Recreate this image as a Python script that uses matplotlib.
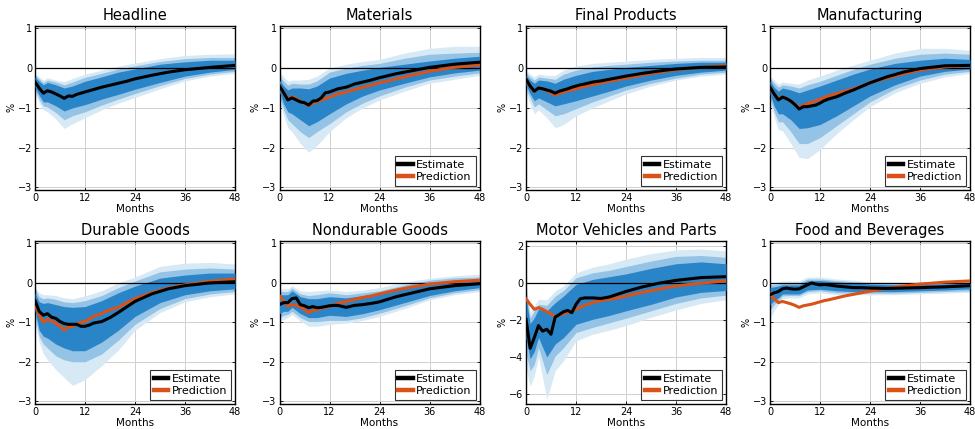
import matplotlib
matplotlib.use('Agg')
import matplotlib.pyplot as plt

# months for the point estimate / prediction lines and for the bands
months = [0,1,2,3,4,5,6,7,8,9,10,11,12,13,14,16,18,20,22,24,28,32,36,42,48]
band_months = [0,1,2,3,5,7,9,12,16,20,24,30,36,42,48]

titles = ['Headline', 'Materials', 'Final Products', 'Manufacturing',
          'Durable Goods', 'Nondurable Goods', 'Motor Vehicles and Parts', 'Food and Beverages']

# Headline
headline_est = [-0.35,-0.5,-0.63,-0.57,-0.6,-0.65,-0.7,-0.76,-0.7,-0.71,-0.66,-0.63,-0.6,-0.57,-0.54,-0.48,-0.43,-0.38,-0.33,-0.27,-0.18,-0.1,-0.04,0.02,0.07]
headline_in_lo = [-0.48,-0.68,-0.85,-0.85,-0.95,-1.08,-1.0,-0.92,-0.78,-0.66,-0.53,-0.36,-0.2,-0.1,-0.03]
headline_in_hi = [-0.22,-0.33,-0.42,-0.36,-0.42,-0.5,-0.45,-0.33,-0.22,-0.1,-0.02,0.1,0.16,0.2,0.2]
headline_mid_lo = [-0.55,-0.78,-0.95,-0.98,-1.12,-1.3,-1.2,-1.1,-0.93,-0.78,-0.64,-0.44,-0.26,-0.15,-0.08]
headline_mid_hi = [-0.17,-0.27,-0.36,-0.3,-0.35,-0.42,-0.35,-0.23,-0.13,-0.02,0.06,0.17,0.24,0.27,0.27]
headline_out_lo = [-0.62,-0.88,-1.05,-1.1,-1.28,-1.52,-1.4,-1.25,-1.05,-0.88,-0.74,-0.52,-0.32,-0.2,-0.13]
headline_out_hi = [-0.12,-0.22,-0.3,-0.24,-0.3,-0.34,-0.26,-0.15,-0.05,0.05,0.13,0.24,0.32,0.35,0.36]

# Materials
materials_est = [-0.45,-0.62,-0.8,-0.75,-0.8,-0.85,-0.87,-0.93,-0.83,-0.82,-0.75,-0.62,-0.6,-0.56,-0.52,-0.48,-0.4,-0.35,-0.3,-0.24,-0.14,-0.06,0.02,0.1,0.15]
materials_pred = [-0.45,-0.62,-0.78,-0.72,-0.77,-0.83,-0.87,-0.95,-0.88,-0.85,-0.8,-0.77,-0.73,-0.69,-0.65,-0.6,-0.54,-0.48,-0.43,-0.37,-0.27,-0.17,-0.08,0.02,0.08]
materials_in_lo = [-0.6,-0.9,-1.1,-1.15,-1.3,-1.45,-1.35,-1.15,-0.9,-0.7,-0.55,-0.38,-0.22,-0.12,-0.05]
materials_in_hi = [-0.3,-0.45,-0.55,-0.5,-0.5,-0.52,-0.45,-0.25,-0.13,-0.05,0.02,0.1,0.18,0.25,0.3]
materials_mid_lo = [-0.7,-1.05,-1.3,-1.4,-1.6,-1.75,-1.6,-1.4,-1.1,-0.88,-0.7,-0.48,-0.3,-0.2,-0.12]
materials_mid_hi = [-0.2,-0.33,-0.43,-0.38,-0.4,-0.4,-0.32,-0.1,0.0,0.07,0.12,0.25,0.35,0.38,0.4]
materials_out_lo = [-0.85,-1.2,-1.5,-1.6,-1.9,-2.12,-1.95,-1.6,-1.25,-1.0,-0.8,-0.58,-0.38,-0.28,-0.18]
materials_out_hi = [-0.1,-0.22,-0.33,-0.3,-0.3,-0.28,-0.2,0.0,0.1,0.17,0.22,0.38,0.5,0.55,0.55]

# Final Products
final_est = [-0.28,-0.45,-0.58,-0.5,-0.52,-0.55,-0.58,-0.63,-0.58,-0.55,-0.52,-0.48,-0.45,-0.42,-0.4,-0.35,-0.32,-0.28,-0.24,-0.2,-0.13,-0.07,-0.02,0.02,0.03]
final_pred = [-0.28,-0.45,-0.58,-0.5,-0.53,-0.57,-0.62,-0.68,-0.63,-0.6,-0.57,-0.55,-0.52,-0.49,-0.46,-0.42,-0.37,-0.33,-0.29,-0.25,-0.17,-0.1,-0.04,0.02,0.06]
final_in_lo = [-0.42,-0.65,-0.82,-0.75,-0.85,-0.95,-0.9,-0.82,-0.7,-0.58,-0.45,-0.3,-0.18,-0.1,-0.05]
final_in_hi = [-0.18,-0.3,-0.38,-0.3,-0.32,-0.38,-0.28,-0.18,-0.08,-0.03,0.02,0.07,0.12,0.15,0.15]
final_mid_lo = [-0.52,-0.75,-0.98,-0.9,-1.05,-1.2,-1.15,-1.02,-0.85,-0.7,-0.55,-0.38,-0.25,-0.15,-0.1]
final_mid_hi = [-0.12,-0.22,-0.3,-0.22,-0.25,-0.28,-0.15,-0.05,0.03,0.07,0.1,0.15,0.18,0.2,0.2]
final_out_lo = [-0.62,-0.9,-1.15,-1.05,-1.25,-1.5,-1.42,-1.2,-1.0,-0.82,-0.65,-0.45,-0.3,-0.2,-0.15]
final_out_hi = [-0.05,-0.15,-0.22,-0.15,-0.18,-0.18,-0.05,0.05,0.12,0.15,0.18,0.22,0.25,0.27,0.27]

# Manufacturing
manuf_est = [-0.48,-0.65,-0.8,-0.73,-0.77,-0.83,-0.92,-1.03,-0.97,-0.97,-0.95,-0.93,-0.88,-0.82,-0.78,-0.72,-0.63,-0.55,-0.46,-0.37,-0.22,-0.1,-0.01,0.06,0.07]
manuf_pred = [-0.48,-0.65,-0.78,-0.72,-0.77,-0.83,-0.9,-1.0,-0.93,-0.9,-0.86,-0.82,-0.78,-0.74,-0.7,-0.64,-0.58,-0.52,-0.45,-0.37,-0.25,-0.14,-0.05,0.03,0.07]
manuf_in_lo = [-0.65,-0.95,-1.15,-1.15,-1.3,-1.52,-1.5,-1.42,-1.2,-0.95,-0.7,-0.42,-0.2,-0.08,-0.02]
manuf_in_hi = [-0.32,-0.48,-0.58,-0.5,-0.55,-0.62,-0.55,-0.45,-0.3,-0.15,-0.02,0.12,0.2,0.25,0.22]
manuf_mid_lo = [-0.75,-1.1,-1.35,-1.35,-1.6,-1.9,-1.9,-1.75,-1.45,-1.15,-0.85,-0.52,-0.3,-0.15,-0.08]
manuf_mid_hi = [-0.25,-0.38,-0.48,-0.42,-0.45,-0.5,-0.42,-0.33,-0.18,-0.03,0.1,0.25,0.35,0.38,0.35]
manuf_out_lo = [-0.85,-1.25,-1.55,-1.58,-1.9,-2.25,-2.28,-2.05,-1.65,-1.3,-0.97,-0.62,-0.38,-0.22,-0.13]
manuf_out_hi = [-0.2,-0.3,-0.4,-0.35,-0.38,-0.4,-0.3,-0.2,-0.05,0.08,0.2,0.38,0.5,0.5,0.45]

# Durable Goods
durable_est = [-0.45,-0.72,-0.82,-0.78,-0.87,-0.9,-0.98,-1.03,-1.05,-1.05,-1.05,-1.1,-1.1,-1.07,-1.02,-0.98,-0.88,-0.75,-0.61,-0.47,-0.28,-0.15,-0.07,0.0,0.03]
durable_pred = [-0.55,-0.8,-1.0,-0.92,-0.97,-1.02,-1.1,-1.2,-1.12,-1.1,-1.05,-1.0,-0.98,-0.92,-0.85,-0.78,-0.68,-0.62,-0.5,-0.4,-0.25,-0.13,-0.05,0.04,0.1]
durable_in_lo = [-0.7,-1.2,-1.35,-1.4,-1.55,-1.65,-1.72,-1.72,-1.5,-1.2,-0.85,-0.5,-0.3,-0.2,-0.15]
durable_in_hi = [-0.25,-0.48,-0.52,-0.5,-0.55,-0.6,-0.62,-0.6,-0.45,-0.25,-0.08,0.12,0.2,0.25,0.25]
durable_mid_lo = [-0.85,-1.35,-1.55,-1.65,-1.85,-1.95,-2.0,-2.0,-1.8,-1.45,-1.05,-0.65,-0.4,-0.28,-0.22]
durable_mid_hi = [-0.15,-0.35,-0.4,-0.38,-0.42,-0.48,-0.5,-0.45,-0.32,-0.12,0.05,0.28,0.35,0.38,0.35]
durable_out_lo = [-1.0,-1.5,-1.8,-1.95,-2.2,-2.4,-2.6,-2.45,-2.1,-1.7,-1.2,-0.75,-0.48,-0.35,-0.28]
durable_out_hi = [-0.1,-0.25,-0.3,-0.3,-0.32,-0.38,-0.4,-0.33,-0.2,0.0,0.15,0.42,0.5,0.52,0.48]

# Nondurable Goods
nondur_est = [-0.55,-0.5,-0.5,-0.4,-0.38,-0.55,-0.58,-0.63,-0.6,-0.63,-0.62,-0.6,-0.58,-0.57,-0.57,-0.62,-0.57,-0.55,-0.52,-0.48,-0.35,-0.25,-0.15,-0.07,-0.02]
nondur_pred = [-0.33,-0.45,-0.58,-0.55,-0.57,-0.6,-0.67,-0.75,-0.7,-0.68,-0.64,-0.62,-0.6,-0.56,-0.52,-0.47,-0.42,-0.37,-0.33,-0.28,-0.18,-0.1,-0.03,0.03,0.07]
nondur_in_lo = [-0.78,-0.72,-0.72,-0.62,-0.78,-0.88,-0.88,-0.82,-0.85,-0.78,-0.68,-0.5,-0.32,-0.2,-0.12]
nondur_in_hi = [-0.3,-0.3,-0.3,-0.2,-0.35,-0.4,-0.4,-0.35,-0.38,-0.32,-0.27,-0.12,0.0,0.07,0.1]
nondur_mid_lo = [-0.88,-0.82,-0.8,-0.72,-0.88,-0.98,-0.98,-0.95,-0.95,-0.88,-0.77,-0.58,-0.38,-0.25,-0.17]
nondur_mid_hi = [-0.22,-0.22,-0.22,-0.13,-0.28,-0.32,-0.3,-0.25,-0.3,-0.25,-0.2,-0.05,0.07,0.13,0.15]
nondur_out_lo = [-1.0,-0.92,-0.88,-0.8,-0.97,-1.1,-1.1,-1.05,-1.02,-0.95,-0.85,-0.65,-0.43,-0.3,-0.22]
nondur_out_hi = [-0.15,-0.15,-0.15,-0.07,-0.2,-0.22,-0.2,-0.18,-0.22,-0.18,-0.12,0.02,0.12,0.18,0.22]

# Motor Vehicles and Parts
motor_est = [-1.95,-3.53,-2.95,-2.3,-2.6,-2.5,-2.77,-1.84,-1.7,-1.55,-1.48,-1.6,-1.15,-0.85,-0.8,-0.8,-0.83,-0.75,-0.6,-0.45,-0.2,0.0,0.15,0.3,0.35]
motor_pred = [-0.85,-1.15,-1.42,-1.33,-1.42,-1.55,-1.66,-1.82,-1.73,-1.66,-1.58,-1.5,-1.42,-1.32,-1.2,-1.06,-0.94,-0.88,-0.8,-0.7,-0.5,-0.32,-0.15,0.0,0.12]
motor_in_lo = [-3.0,-4.1,-3.7,-2.95,-4.0,-3.3,-2.95,-2.23,-1.96,-1.75,-1.5,-1.15,-0.75,-0.5,-0.4]
motor_in_hi = [-0.8,-2.2,-1.87,-1.42,-1.5,-1.06,-0.7,-0.07,0.2,0.35,0.5,0.8,1.05,1.15,1.05]
motor_mid_lo = [-3.8,-4.75,-4.4,-3.5,-4.95,-3.95,-3.5,-2.68,-2.4,-2.15,-1.9,-1.5,-1.1,-0.8,-0.65]
motor_mid_hi = [-0.4,-1.9,-1.5,-1.15,-1.2,-0.7,-0.4,0.29,0.56,0.7,0.9,1.2,1.45,1.5,1.4]
motor_out_lo = [-4.6,-5.6,-5.0,-4.0,-6.3,-4.75,-4.2,-3.13,-2.77,-2.55,-2.3,-1.85,-1.45,-1.1,-0.9]
motor_out_hi = [0.0,-1.6,-1.2,-0.88,-0.9,-0.43,-0.15,0.56,0.86,1.05,1.3,1.6,1.8,1.85,1.75]

# Food and Beverages
food_est = [-0.3,-0.25,-0.22,-0.15,-0.13,-0.15,-0.16,-0.15,-0.1,-0.05,0.0,-0.03,-0.05,-0.04,-0.05,-0.08,-0.1,-0.12,-0.12,-0.13,-0.14,-0.13,-0.12,-0.1,-0.07]
food_pred = [-0.28,-0.4,-0.5,-0.47,-0.5,-0.53,-0.57,-0.62,-0.58,-0.56,-0.54,-0.51,-0.48,-0.45,-0.43,-0.38,-0.33,-0.29,-0.25,-0.21,-0.14,-0.08,-0.03,0.02,0.05]
food_in_lo = [-0.55,-0.45,-0.38,-0.28,-0.28,-0.28,-0.18,-0.16,-0.2,-0.22,-0.22,-0.22,-0.2,-0.18,-0.15]
food_in_hi = [-0.12,-0.1,-0.08,-0.05,-0.05,-0.05,0.05,0.06,0.02,0.0,-0.03,-0.05,-0.04,-0.03,0.0]
food_mid_lo = [-0.7,-0.55,-0.45,-0.33,-0.32,-0.32,-0.22,-0.2,-0.25,-0.26,-0.26,-0.26,-0.24,-0.22,-0.2]
food_mid_hi = [-0.05,-0.05,-0.03,0.0,0.0,0.0,0.1,0.1,0.06,0.03,0.0,-0.02,-0.01,0.0,0.03]
food_out_lo = [-0.9,-0.7,-0.55,-0.4,-0.38,-0.38,-0.28,-0.25,-0.3,-0.3,-0.3,-0.3,-0.28,-0.26,-0.24]
food_out_hi = [0.0,0.0,0.02,0.05,0.05,0.05,0.15,0.15,0.1,0.07,0.03,0.02,0.02,0.04,0.06]

panels = [
    (headline_est, None, headline_in_lo, headline_in_hi, headline_mid_lo, headline_mid_hi, headline_out_lo, headline_out_hi),
    (materials_est, materials_pred, materials_in_lo, materials_in_hi, materials_mid_lo, materials_mid_hi, materials_out_lo, materials_out_hi),
    (final_est, final_pred, final_in_lo, final_in_hi, final_mid_lo, final_mid_hi, final_out_lo, final_out_hi),
    (manuf_est, manuf_pred, manuf_in_lo, manuf_in_hi, manuf_mid_lo, manuf_mid_hi, manuf_out_lo, manuf_out_hi),
    (durable_est, durable_pred, durable_in_lo, durable_in_hi, durable_mid_lo, durable_mid_hi, durable_out_lo, durable_out_hi),
    (nondur_est, nondur_pred, nondur_in_lo, nondur_in_hi, nondur_mid_lo, nondur_mid_hi, nondur_out_lo, nondur_out_hi),
    (motor_est, motor_pred, motor_in_lo, motor_in_hi, motor_mid_lo, motor_mid_hi, motor_out_lo, motor_out_hi),
    (food_est, food_pred, food_in_lo, food_in_hi, food_mid_lo, food_mid_hi, food_out_lo, food_out_hi),
]

c_dark = '#2a84c8'
c_mid = '#94c3e6'
c_light = '#d8e9f6'
c_orange = '#d95319'

W, H = 975, 429
fig = plt.figure(figsize=(W / 100, H / 100), dpi=100)

col_x = [35, 279.5, 526, 770]
ax_w = 200
row_y = [(25.7, 190), (240.7, 404)]

for i, (title, p) in enumerate(zip(titles, panels)):
    est, pred, in_lo, in_hi, mid_lo, mid_hi, out_lo, out_hi = p
    r, c = divmod(i, 4)
    top, bot = row_y[r]
    ax = fig.add_axes([col_x[c] / W, 1 - bot / H, ax_w / W, (bot - top) / H])

    ax.fill_between(band_months, out_lo, out_hi, color=c_light, lw=0, zorder=1)
    ax.fill_between(band_months, mid_lo, mid_hi, color=c_mid, lw=0, zorder=2)
    ax.fill_between(band_months, in_lo, in_hi, color=c_dark, lw=0, zorder=3)
    ax.axhline(0, color='black', lw=0.9, zorder=4)
    ax.plot(months, est, color='black', lw=2.2, zorder=6, label='Estimate')
    if pred is not None:
        ax.plot(months, pred, color=c_orange, lw=2.2, zorder=5, label='Prediction')
        leg = ax.legend(loc='lower right', fontsize=8, frameon=True, fancybox=False,
                        edgecolor='black', handlelength=1.3, handletextpad=0.3,
                        borderpad=0.35, labelspacing=0.2, borderaxespad=0.35)
        leg.get_frame().set_linewidth(0.8)
        for ln in leg.get_lines():
            ln.set_linewidth(3.2)

    ax.set_xlim(0, 48)
    ax.set_xticks([0, 12, 24, 36, 48])
    if title == 'Motor Vehicles and Parts':
        ax.set_ylim(-6.55, 2.3)
        ax.set_yticks([-6, -4, -2, 0, 2])
    else:
        ax.set_ylim(-3.07, 1.07)
        ax.set_yticks([-3, -2, -1, 0, 1])
    ax.grid(True, color='#d0d0d0', lw=0.7, zorder=0)
    ax.set_axisbelow(True)
    ax.tick_params(direction='in', length=2.5, width=0.6, labelsize=7,
                   top=True, right=True, pad=2)
    for s in ax.spines.values():
        s.set_linewidth(1.0)
    ax.set_title(title, fontsize=10.5, pad=4)
    ax.set_xlabel('Months', fontsize=7.5, labelpad=1)
    ax.set_ylabel('%', fontsize=7, labelpad=1)

fig.savefig('out.png', dpi=100)
